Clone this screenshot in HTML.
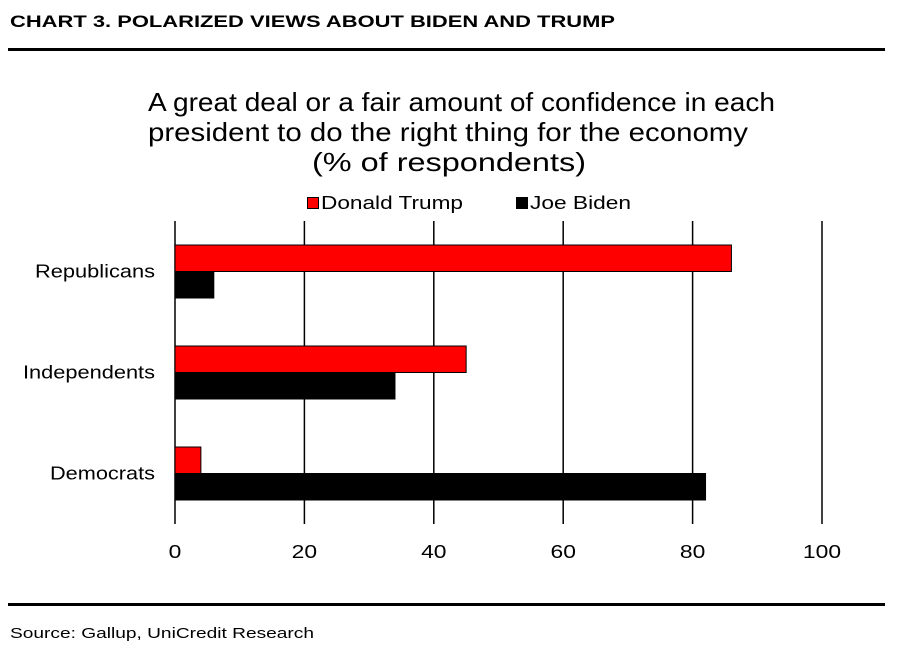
<!DOCTYPE html>
<html><head><meta charset="utf-8"><style>
body{margin:0;width:899px;height:653px;background:#fff;font-family:"Liberation Sans",Arial,sans-serif;position:relative;overflow:hidden}
</style></head><body>
<div style="position:absolute;left:8px;top:48px;width:877px;height:3px;background:#000"></div>
<div style="position:absolute;left:8px;top:603px;width:877px;height:3px;background:#000"></div>
<svg id="chart" width="899" height="653" style="position:absolute;left:0;top:0" font-family="Liberation Sans, Arial, sans-serif">
<text x="10" y="27" font-size="17" font-weight="bold" textLength="605" lengthAdjust="spacingAndGlyphs">CHART 3. POLARIZED VIEWS ABOUT BIDEN AND TRUMP</text>
<text x="10" y="638" font-size="15" textLength="304" lengthAdjust="spacingAndGlyphs">Source: Gallup, UniCredit Research</text>
<text x="148" y="111" font-size="26" textLength="627" lengthAdjust="spacingAndGlyphs">A great deal or a fair amount of confidence in each</text>
<text x="148" y="141" font-size="26" textLength="600" lengthAdjust="spacingAndGlyphs">president to do the right thing for the economy</text>
<text x="312" y="171" font-size="26" textLength="274" lengthAdjust="spacingAndGlyphs">(% of respondents)</text>
<g>
<rect x="307.5" y="197.5" width="11" height="11" fill="#f00" stroke="#000"/>
<text x="321" y="209" font-size="18" textLength="142" lengthAdjust="spacingAndGlyphs">Donald Trump</text>
<rect x="516.5" y="197.5" width="11" height="11" fill="#000" stroke="#000"/>
<text x="530" y="209" font-size="18" textLength="101" lengthAdjust="spacingAndGlyphs">Joe Biden</text>
</g>
<g id="grid"></g><g id="bars"></g><g id="labels"></g>
</svg>
<script>
const categories=["Republicans","Independents","Democrats"];
const trumpValues=[86,45,4];
const bidenValues=[6,34,82];
const tickValues=[0,20,40,60,80,100];
const catWidths=[120,132,105];
const X0=175,X1=822,PTOP=221,PBOT=524;
const xs=v=>X0+(X1-X0)*v/100;
const ns="http://www.w3.org/2000/svg";
function mk(t,a,p){const e=document.createElementNS(ns,t);for(const k in a)e.setAttribute(k,a[k]);p.appendChild(e);return e;}
const grid=document.getElementById('grid'),bars=document.getElementById('bars'),labels=document.getElementById('labels');
tickValues.forEach(v=>{
 const l=mk('line',{x1:xs(v),x2:xs(v),y1:PTOP,y2:PBOT,stroke:'#000','stroke-width':1.5},grid);
 
 
 const s=String(v);
 const w=s.length*12.7;
 const t=mk('text',{x:xs(v)-w/2,y:558,'font-size':18,textLength:w,lengthAdjust:'spacingAndGlyphs'},labels);
 t.textContent=s;
 
 
});
const band=(PBOT-PTOP)/categories.length;
categories.forEach((c,i)=>{
 const cy=PTOP+band*i+band/2;
 const b1=mk('rect',{x:X0,y:cy-26.5,width:xs(trumpValues[i])-X0,height:26.5,fill:'#f00',stroke:'#000','stroke-width':1},bars);
 
 
 const b2=mk('rect',{x:X0,y:cy,width:xs(bidenValues[i])-X0,height:26.5,fill:'#000',stroke:'#000','stroke-width':1},bars);
 
 
 const t=mk('text',{x:155-catWidths[i],y:cy+6,'font-size':18,textLength:catWidths[i],lengthAdjust:'spacingAndGlyphs'},labels);
 t.textContent=c;
 
 
});
</script>
</body></html>
